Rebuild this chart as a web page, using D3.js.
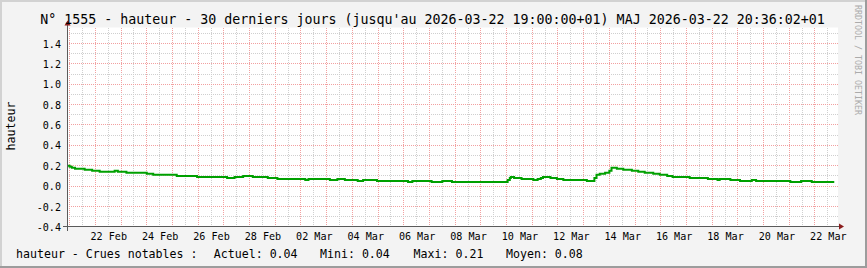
<!DOCTYPE html>
<html><head><meta charset="utf-8">
<script src="https://cdn.jsdelivr.net/npm/d3@7"></script>
<style>
html,body{margin:0;padding:0;background:#f3f3f3;}
svg{display:block;}
text{font-family:"DejaVu Sans Mono",monospace;fill:#000;}
</style></head><body>
<svg id="chart" width="867" height="268"></svg>
<script>
// ---------- data ----------
const chartTitle = "N° 1555 - hauteur - 30 derniers jours (jusqu'au 2026-03-22 19:00:00+01) MAJ 2026-03-22 20:36:02+01";
const yAxisTitle = "hauteur";
const watermark = "RRDTOOL / TOBI OETIKER";
const timeDomain = ["2026-02-20T21:30:00Z", "2026-03-22T21:30:00Z"];
const yDomain = [-0.4, 1.557];
const yTickValues = [-0.4, -0.2, 0, 0.2, 0.4, 0.6, 0.8, 1.0, 1.2, 1.4];
const yTickLabels = ["-0.4", "-0.2", "0.0", "0.2", "0.4", "0.6", "0.8", "1.0", "1.2", "1.4"];
const xTickDays = ["2026-02-22", "2026-02-24", "2026-02-26", "2026-02-28", "2026-03-02", "2026-03-04",
  "2026-03-06", "2026-03-08", "2026-03-10", "2026-03-12", "2026-03-14", "2026-03-16", "2026-03-18",
  "2026-03-20", "2026-03-22"];
const xTickLabels = ["22 Feb", "24 Feb", "26 Feb", "28 Feb", "02 Mar", "04 Mar", "06 Mar", "08 Mar",
  "10 Mar", "12 Mar", "14 Mar", "16 Mar", "18 Mar", "20 Mar", "22 Mar"];
const legendItems = ["hauteur - Crues notables :", "Actuel: 0.04", "Mini: 0.04", "Maxi: 0.21", "Moyen: 0.08"];

const hauteurTimes = [
  "2026-02-20T21:30Z", "2026-02-21T00:00Z", "2026-02-21T02:00Z", "2026-02-21T05:00Z", "2026-02-21T14:00Z",
  "2026-02-21T21:00Z", "2026-02-22T04:00Z", "2026-02-22T18:00Z", "2026-02-22T21:00Z", "2026-02-23T05:00Z",
  "2026-02-24T00:00Z", "2026-02-24T06:00Z", "2026-02-25T04:00Z", "2026-02-25T23:00Z", "2026-02-27T03:00Z",
  "2026-02-27T10:00Z", "2026-02-27T18:00Z", "2026-02-28T03:00Z", "2026-02-28T17:00Z", "2026-03-01T02:00Z",
  "2026-03-02T04:00Z", "2026-03-02T07:00Z", "2026-03-03T03:00Z", "2026-03-03T10:00Z", "2026-03-03T17:00Z",
  "2026-03-04T05:00Z", "2026-03-04T10:00Z", "2026-03-04T23:00Z", "2026-03-06T04:00Z", "2026-03-06T08:00Z",
  "2026-03-07T02:00Z", "2026-03-07T12:00Z", "2026-03-07T21:00Z", "2026-03-10T01:00Z", "2026-03-10T03:00Z",
  "2026-03-10T04:00Z", "2026-03-10T07:00Z", "2026-03-10T14:00Z", "2026-03-11T01:00Z", "2026-03-11T05:00Z",
  "2026-03-11T08:00Z", "2026-03-11T10:00Z", "2026-03-11T17:00Z", "2026-03-11T23:00Z", "2026-03-12T05:00Z",
  "2026-03-13T03:00Z", "2026-03-13T10:00Z", "2026-03-13T12:00Z", "2026-03-13T15:00Z", "2026-03-13T20:00Z",
  "2026-03-14T00:00Z", "2026-03-14T02:00Z", "2026-03-14T07:00Z", "2026-03-14T13:00Z", "2026-03-14T21:00Z",
  "2026-03-15T03:00Z", "2026-03-15T09:00Z", "2026-03-15T17:00Z", "2026-03-15T23:00Z", "2026-03-16T06:00Z",
  "2026-03-16T11:00Z", "2026-03-17T03:00Z", "2026-03-17T20:00Z", "2026-03-18T05:00Z", "2026-03-18T07:00Z",
  "2026-03-18T17:00Z", "2026-03-19T02:00Z", "2026-03-19T13:00Z", "2026-03-19T17:00Z", "2026-03-21T01:00Z",
  "2026-03-21T11:00Z", "2026-03-21T21:00Z", "2026-03-22T18:00Z"
];
const hauteurValues = [
  0.20, 0.19, 0.18, 0.17, 0.16,
  0.15, 0.14, 0.15, 0.14, 0.13,
  0.12, 0.11, 0.10, 0.09, 0.08,
  0.09, 0.10, 0.09, 0.08, 0.07,
  0.06, 0.07, 0.06, 0.07, 0.06,
  0.05, 0.06, 0.05, 0.04, 0.05,
  0.04, 0.05, 0.04, 0.06, 0.08,
  0.09, 0.08, 0.07, 0.06, 0.07,
  0.08, 0.09, 0.08, 0.07, 0.06,
  0.05, 0.08, 0.11, 0.12, 0.13,
  0.15, 0.18, 0.17, 0.16, 0.15,
  0.14, 0.13, 0.12, 0.11, 0.10,
  0.09, 0.08, 0.07, 0.06, 0.07,
  0.06, 0.05, 0.06, 0.05, 0.04,
  0.05, 0.04, 0.04
];

// ---------- layout ----------
const W = 867, H = 268;
const X0 = 67, X1 = 838, YT = 27.5, YB = 226.8;
const svg = d3.select("#chart");

// background & shading frame
svg.append("rect").attr("x", 0).attr("y", 0).attr("width", W).attr("height", H).attr("fill", "#f3f3f3");
svg.append("rect").attr("x", 0).attr("y", 0).attr("width", W).attr("height", 2).attr("fill", "#d2d2d2");
svg.append("rect").attr("x", 0).attr("y", 0).attr("width", 2).attr("height", H).attr("fill", "#d2d2d2");
svg.append("rect").attr("x", W - 2).attr("y", 0).attr("width", 2).attr("height", H).attr("fill", "#9c9c9c");
svg.append("rect").attr("x", 0).attr("y", H - 2).attr("width", W).attr("height", 2).attr("fill", "#9c9c9c");

const x = d3.scaleUtc().domain(timeDomain.map(d => new Date(d))).range([X0, X1]);
const y = d3.scaleLinear().domain(yDomain).range([YB, YT]);

// canvas
svg.append("rect").attr("x", X0).attr("y", YT).attr("width", X1 - X0).attr("height", YB - YT).attr("fill", "#ffffff");

const snap = v => Math.floor(v) + 0.5;
const grid = svg.append("g").attr("shape-rendering", "crispEdges").attr("stroke-width", 1).attr("stroke-dasharray", "1,1");

// vertical grid: minor every 12h, major every day
const hours12 = d3.utcHour.every(12).range(x.domain()[0], x.domain()[1]);
hours12.forEach(t => {
  const major = t.getUTCHours() === 0;
  grid.append("line")
    .attr("x1", snap(x(t))).attr("x2", snap(x(t)))
    .attr("y1", YT).attr("y2", YB)
    .attr("stroke", major ? "#f2a0a0" : "#cfcfcf");
});
// horizontal grid: minor 0.1, major 0.2
d3.range(-3, 16).forEach(k => {
  const v = k / 10;
  const major = k % 2 === 0;
  grid.append("line")
    .attr("x1", X0).attr("x2", X1)
    .attr("y1", snap(y(v))).attr("y2", snap(y(v)))
    .attr("stroke", major ? "#f2a0a0" : "#cfcfcf");
});

// data line
const pts = hauteurTimes.map((t, i) => [new Date(t), hauteurValues[i]]);
const line = d3.line().x(d => x(d[0])).y(d => y(d[1])).curve(d3.curveStepAfter);
svg.append("path").datum(pts).attr("d", line)
  .attr("fill", "none").attr("stroke", "#00a000").attr("stroke-width", 2)
  .attr("stroke-linejoin", "miter");

// axes lines & arrows
const axisCol = "#5a5a5a", arrowCol = "#8b1c1c";
const axG = svg.append("g").attr("shape-rendering", "crispEdges");
axG.append("line").attr("x1", snap(X0)).attr("x2", snap(X0)).attr("y1", YB + 4).attr("y2", YT - 3)
  .attr("stroke", axisCol).attr("stroke-width", 1);
axG.append("line").attr("x1", X0 - 4).attr("x2", X1 + 2).attr("y1", snap(YB)).attr("y2", snap(YB))
  .attr("stroke", axisCol).attr("stroke-width", 1);
svg.append("path").attr("d", `M${snap(X0) - 3},${YT - 2} L${snap(X0) + 3},${YT - 2} L${snap(X0)},${YT - 7} Z`)
  .attr("fill", arrowCol);
svg.append("path").attr("d", `M${X1 + 1},${snap(YB) - 3} L${X1 + 1},${snap(YB) + 3} L${X1 + 6},${snap(YB)} Z`)
  .attr("fill", arrowCol);

// y axis labels via d3 axis
const yAxis = d3.axisLeft(y).tickValues(yTickValues).tickFormat((d, i) => yTickLabels[i]).tickSize(0).tickPadding(6);
const gy = svg.append("g").attr("transform", `translate(${X0},0)`).call(yAxis);
gy.select(".domain").remove();
gy.selectAll("text").attr("font-family", "DejaVu Sans Mono").attr("font-size", "10.1px").attr("fill", "#000").attr("dy", "0.36em");

// x axis labels via d3 axis (labels at noon of each labeled day)
const xTickDates = xTickDays.map(d => new Date(d + "T12:00:00Z"));
const xAxis = d3.axisBottom(x).tickValues(xTickDates).tickFormat((d, i) => xTickLabels[i]).tickSize(0);
const gx = svg.append("g").attr("transform", `translate(0,${YB})`).call(xAxis);
gx.select(".domain").remove();
gx.selectAll("text").attr("font-family", "DejaVu Sans Mono").attr("font-size", "10.1px").attr("fill", "#000")
  .attr("y", 13.7).attr("dy", 0);

// title
svg.append("text").attr("x", 432.5).attr("y", 24.2).attr("text-anchor", "middle")
  .attr("font-size", "13.3px").text(chartTitle);

// y axis title
svg.append("text").attr("transform", "translate(14.8,126) rotate(-90)").attr("text-anchor", "middle")
  .attr("font-size", "11.6px").text(yAxisTitle);

// watermark
svg.append("text").attr("transform", "translate(855.2,5) rotate(90)").attr("text-anchor", "start")
  .attr("font-size", "8.3px").style("fill", "#ababab").text(watermark);

// legend
const legendX = [16, 213.8, 320, 413.6, 506];
legendItems.forEach((s, i) => {
  svg.append("text").attr("x", legendX[i]).attr("y", 258.3).attr("font-size", "11.6px")
    .attr("xml:space", "preserve").text(s);
});
</script>
</body></html>
